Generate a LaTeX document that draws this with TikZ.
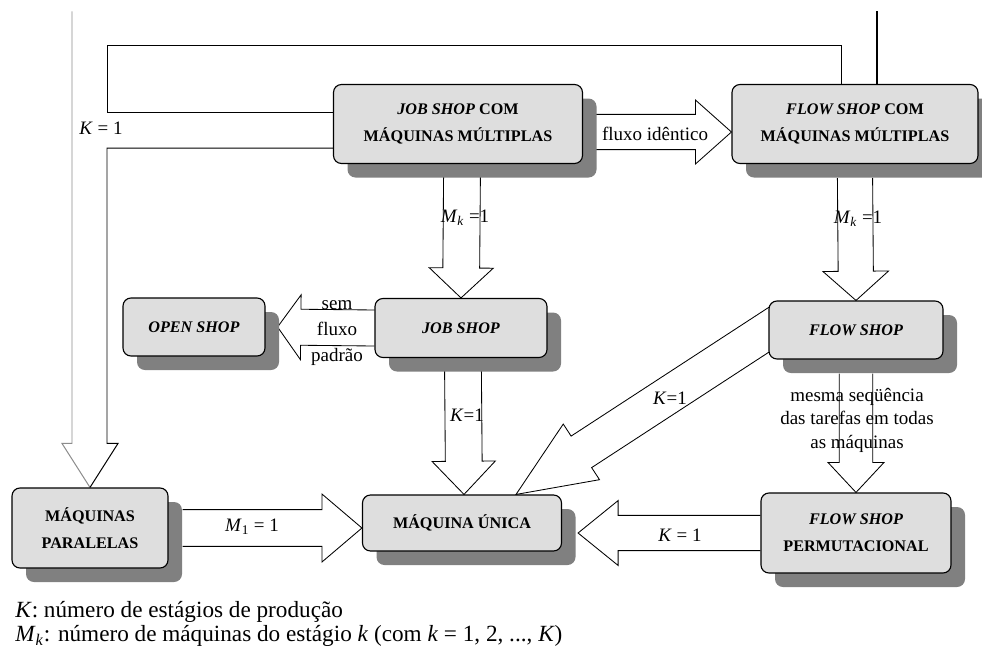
\documentclass[tikz,border=0pt]{standalone}
\usepackage{fontspec}
\setmainfont{Liberation Serif}
\usetikzlibrary{calc, shadows, positioning}

\pgfdeclarelayer{bg}
\pgfsetlayers{bg,main}

\tikzset{
  shopbox/.style n args={2}{draw, line width=0.8pt, rounded corners=0.2cm, fill=black!13,
    minimum width=#1*0.025cm, minimum height=#2*0.025cm, inner sep=0pt, align=center,
    font=\fontsize{11.5}{19}\selectfont\bfseries,
    drop shadow={shadow xshift=0.35cm, shadow yshift=-0.35cm, fill=black!50, opacity=1}},
  fatline/.style={draw=black, line width=0.6pt, fill=white, line join=miter},
  thinline/.style={line width=0.7pt},
  lbl/.style={font=\fontsize{13.5}{16.5}\selectfont, align=center, inner sep=0pt},
  legend/.style={font=\fontsize{16.5}{19}\selectfont, anchor=west, inner sep=0pt},
}

% 空心箭头: 起点, 终点, 半杆宽, 半头宽, 头长
\newcommand{\fatarrow}[5]{%
  \coordinate (fahead) at ($(#2)!#5!(#1)$);
  \path[fatline] ($(#1)!#3!90:(#2)$) -- ($(fahead)!#3!90:(#2)$) -- ($(fahead)!#4!90:(#2)$)
    -- (#2) -- ($(fahead)!#4!-90:(#2)$) -- ($(fahead)!#3!-90:(#2)$) -- ($(#1)!#3!-90:(#2)$);
}

\begin{document}
\begin{tikzpicture}[x=0.025cm, y=-0.025cm]
  \useasboundingbox (0,0) rectangle (982,660);

  % 方框
  \node[shopbox={249}{79}] (jsc) at (458,124) {\textit{JOB SHOP} COM\\MÁQUINAS MÚLTIPLAS};
  \node[shopbox={246}{79}] (fsc) at (855,124) {\textit{FLOW SHOP} COM\\MÁQUINAS MÚLTIPLAS};
  \node[shopbox={172}{59}] (js) at (461,328) {\textit{JOB SHOP}};
  \node[shopbox={142}{58}] (os) at (194,327) {\textit{OPEN SHOP}};
  \node[shopbox={174}{58}] (fs) at (856,330) {\textit{FLOW SHOP}};
  \node[shopbox={156}{80}] (mp) at (90,528) {MÁQUINAS\\PARALELAS};
  \node[shopbox={199}{56}] (mu) at (462,523) {MÁQUINA ÚNICA};
  \node[shopbox={190}{80}] (fsp) at (856,533) {\textit{FLOW SHOP}\\PERMUTACIONAL};

  % 箭头端点
  \coordinate (fluxoA) at ([xshift=0.25cm,yshift=-0.2cm]jsc.east);
  \coordinate (fluxoB) at ([yshift=-0.2cm]fsc.west);
  \coordinate (mkA) at ([xshift=0.1cm,yshift=-0.3cm]jsc.south);
  \coordinate (mkB) at ([yshift=-0.35cm]fsc.south);
  \coordinate (semB) at ([xshift=0.3cm]os.east);
  \coordinate (jkA) at ([xshift=0.05cm,yshift=-0.32cm]js.south);
  \coordinate (jkB) at ([xshift=0.05cm]mu.north);
  \coordinate (diagB) at ([xshift=1.35cm]mu.north);
  \coordinate (diagA) at ($(diagB)!1.06!(fs.west)$);
  \coordinate (mA) at ([xshift=0.35cm]mp.east);
  \coordinate (mB) at (mu.west |- mA);
  \coordinate (kB) at ([xshift=0.4cm]mu.east |- fsp.west);
  \coordinate (permA) at ([yshift=-0.35cm]fs.south);

  \begin{pgfonlayer}{bg}
    % 背景
    \fill[white] (0,0) rectangle (982,660);

    % 空心箭头
    \fatarrow{fluxoA}{fluxoB}{0.44cm}{0.8cm}{0.9cm}
    \fatarrow{mkA}{js.north}{0.46cm}{0.8cm}{0.75cm}
    \fatarrow{mkB}{fs.north}{0.44cm}{0.82cm}{0.73cm}
    \fatarrow{js.west}{semB}{0.45cm}{0.81cm}{0.58cm}
    \fatarrow{jkA}{jkB}{0.46cm}{0.79cm}{0.83cm}
    \fatarrow{diagA}{diagB}{0.47cm}{0.83cm}{1.95cm}
    \fatarrow{mA}{mB}{0.46cm}{0.85cm}{1cm}
    \fatarrow{fsp.west}{kB}{0.44cm}{0.81cm}{1cm}
    \fatarrow{permA}{fsp.north}{0.42cm}{0.7cm}{0.75cm}

    % 左侧和上方的线
    \draw[thinline, black!45] (mp.north) -- ++(-28,-44) -- ++(10,0) -- ++(0,-432);
    \draw[thinline] (mp.north) -- ++(28,-44) -- ++(-11,0) |- ([yshift=-0.6cm]jsc.west);
    \draw[thinline] ([yshift=0.3cm]jsc.west) -| (107,45) -| ([xshift=-0.35cm]fsc.north);
    \draw[line width=2pt] ([xshift=0.55cm]fsc.north) -- ++(0,-73);
  \end{pgfonlayer}

  % 标签
  \node[lbl] (kleft) at (101,128) {\textit{K} = 1};
  \node[lbl] (fluxo) at (655,134) {fluxo idêntico};
  \node[lbl] (mkleft) at (465,218) {\textit{M}\textsubscript{\textit{k}} =1};
  \node[lbl] (mkright) at (858,219) {\textit{M}\textsubscript{\textit{k}} =1};
  \node[lbl, font=\fontsize{13.5}{18.5}\selectfont] (sem) at (337,333) {sem\\fluxo\\padrão};
  \node[lbl] (kjs) at (467,415) {\textit{K}=1};
  \node[lbl] (kdiag) at (670,398) {\textit{K}=1};
  \node[lbl, font=\fontsize{13.5}{16.7}\selectfont] (mesma) at (857,420)
    {mesma seqüência\\das tarefas em todas\\as máquinas};
  \node[lbl] (mone) at (252,527) {\textit{M}\textsubscript{1} = 1};
  \node[lbl] (kbottom) at (680,535) {\textit{K} = 1};

  % 图例
  \node[legend] (leg1) at (15,612) {\textit{K}: número de estágios de produção};
  \node[legend] (leg2) at (15,636) {\textit{M}\textsubscript{\textit{k}}: número de máquinas do estágio \textit{k} (com \textit{k} = 1, 2, ..., \textit{K})};
\end{tikzpicture}
\end{document}
